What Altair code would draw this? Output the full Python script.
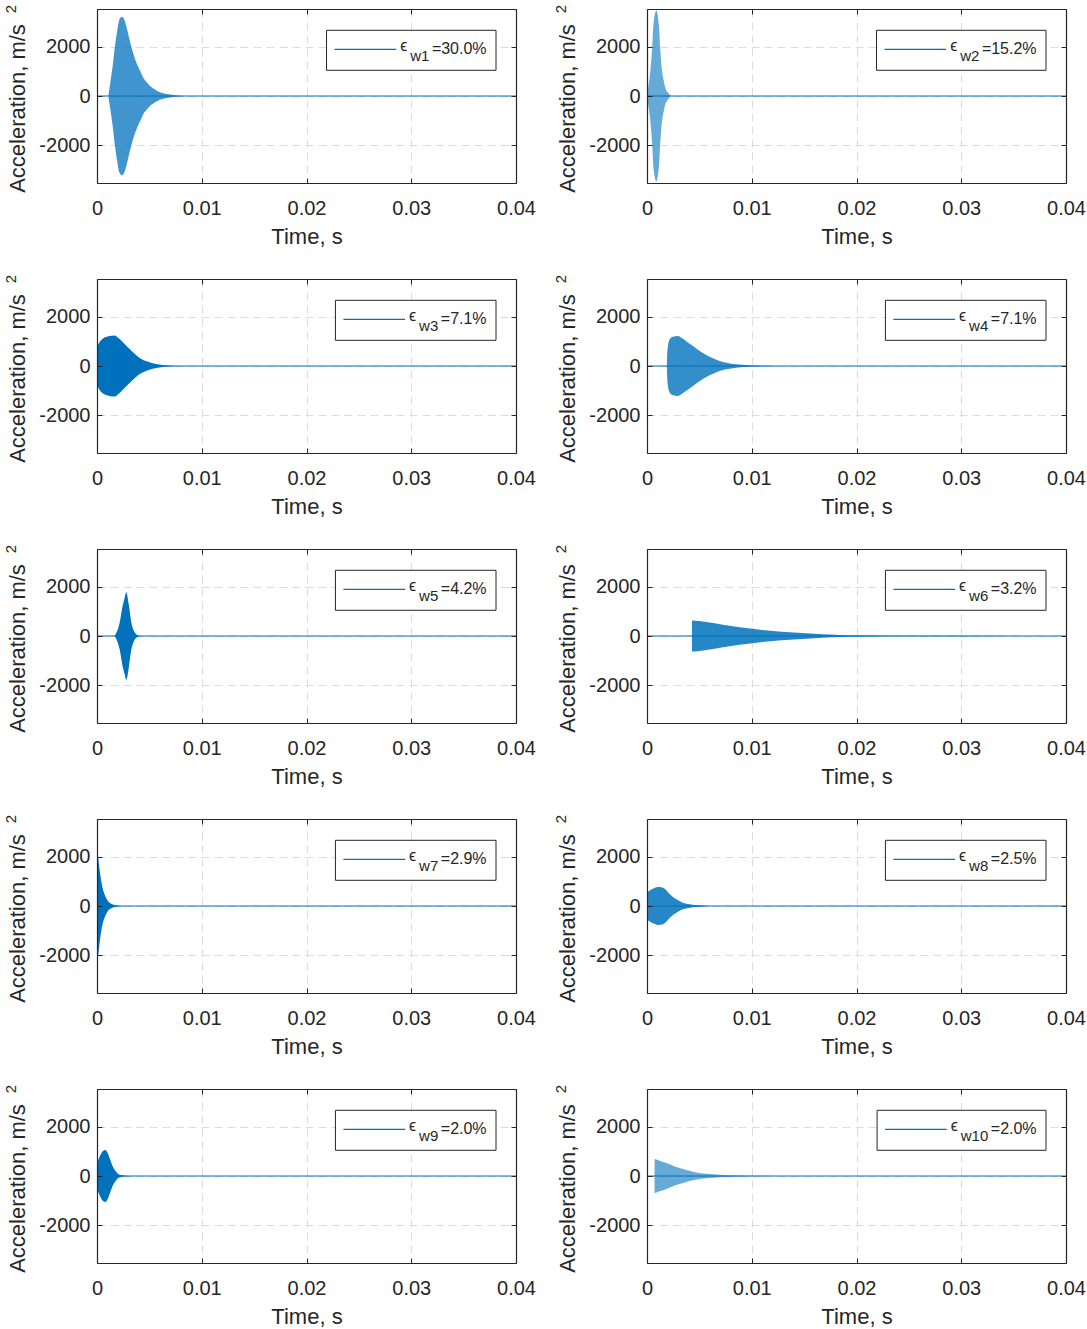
import altair as alt
import pandas as pd

# ---------------- data (envelope of each acceleration record) -------------
t_w1 = [0.00108, 0.00124, 0.00150, 0.00172, 0.00194, 0.00213, 0.00239, 0.00258, 0.00283, 0.00309,
        0.00334, 0.00363, 0.00388, 0.00417, 0.00442, 0.00474, 0.00506, 0.00538, 0.00570, 0.00601,
        0.00665, 0.00729, 0.00808, 0.00888]
a_w1 = [0, 450, 1230, 2040, 2670, 3090, 3210, 3120, 2780, 2310, 1900, 1500, 1230, 970, 740, 560,
        400, 300, 215, 150, 80, 40, 10, 0]

t_w2 = [0.0, 0.000095, 0.000255, 0.000477, 0.000636, 0.000891, 0.001146, 0.001273, 0.001432,
        0.001591, 0.00175, 0.002005, 0.002323]
a_w2 = [0, 300, 760, 1840, 2980, 3450, 2800, 1840, 1030, 630, 335, 130, 0]

t_w3 = [0.0, 0.00022, 0.00054, 0.00118, 0.00166, 0.00213, 0.00277, 0.00341, 0.00404, 0.00468,
        0.00532, 0.00627, 0.00723, 0.0085]
a_w3 = [770, 950, 1100, 1210, 1235, 1100, 830, 565, 335, 200, 107, 40, 10, 0]

t_w4 = [0.00190, 0.00191, 0.00200, 0.00216, 0.00248, 0.00296, 0.00328, 0.00375, 0.00439, 0.00503,
        0.00566, 0.00630, 0.00694, 0.00757, 0.00853, 0.0098, 0.01139, 0.01362]
a_w4 = [0, 270, 805, 1070, 1180, 1210, 1140, 1005, 805, 605, 443, 310, 200, 135, 67, 27, 10, 0]

t_w5 = [0.00168, 0.00184, 0.00215, 0.00247, 0.00263, 0.00279, 0.00304, 0.00326, 0.00348, 0.00373,
        0.00405, 0.00437]
a_w5 = [0, 120, 520, 1260, 1530, 1770, 1260, 590, 255, 80, 13, 0]

t_w6 = [0.00429, 0.0043, 0.00566, 0.00725, 0.00885, 0.01044, 0.01203, 0.01362, 0.01521, 0.0168,
        0.01839, 0.01998, 0.025, 0.03, 0.035, 0.04]
a_w6 = [0, 630, 565, 456, 350, 270, 200, 148, 107, 67, 40, 27, 15, 8, 5, 3]

t_w7 = [0.0, 0.00006, 0.00025, 0.00041, 0.00057, 0.00073, 0.00089, 0.00104, 0.00136, 0.00168,
        0.00215, 0.00279]
a_w7 = [2100, 2080, 1475, 1000, 670, 470, 310, 200, 95, 40, 13, 0]

t_w8 = [0.0, 0.00025, 0.00057, 0.00105, 0.00137, 0.00169, 0.0020, 0.00248, 0.00296, 0.00344,
        0.00407, 0.00503, 0.00598]
a_w8 = [540, 630, 700, 765, 760, 700, 560, 360, 230, 135, 67, 27, 0]

t_w9 = [0.0, 0.00025, 0.00051, 0.00079, 0.00104, 0.00127, 0.00152, 0.00177, 0.00199, 0.00231,
        0.00279, 0.00326]
a_w9 = [500, 780, 980, 1050, 910, 645, 375, 200, 94, 40, 13, 0]

t_w10 = [0.00072, 0.00073, 0.00121, 0.00185, 0.00248, 0.00312, 0.00375, 0.00439, 0.00503, 0.00566,
         0.00694, 0.00821, 0.0098, 0.01203, 0.01362]
a_w10 = [0, 685, 617, 523, 416, 322, 240, 175, 121, 94, 54, 27, 13, 5, 0]

t_span = [0.0, 0.04]          # record length, s (baseline of every trace)
x_ticks = [0, 0.01, 0.02, 0.03, 0.04]
y_ticks = [-2000, 0, 2000]
y_limit = [-3520, 3520]

eps_sub = ["w1", "w2", "w3", "w4", "w5", "w6", "w7", "w8", "w9", "w10"]
eps_val = ["30.0%", "15.2%", "7.1%", "7.1%", "4.2%", "3.2%", "2.9%", "2.5%", "2.0%", "2.0%"]

T = [t_w1, t_w2, t_w3, t_w4, t_w5, t_w6, t_w7, t_w8, t_w9, t_w10]
A = [a_w1, a_w2, a_w3, a_w4, a_w5, a_w6, a_w7, a_w8, a_w9, a_w10]

# ---------------- style ----------------
W, H = 419, 174
BLUE = "#0072BD"
INK = "#262626"
FONT = "Liberation Sans"
GRID = "#dcdcdc"
OPAC = [0.75, 0.6, 1.0, 0.8, 1.0, 0.85, 1.0, 0.85, 1.0, 0.6]

CW = {"0": 556, "1": 556, "2": 556, "3": 556, "4": 556, "5": 556, "6": 556, "7": 556,
      "8": 556, "9": 556, ".": 278, "%": 889, "=": 584, "w": 722}


def text_w(s, fs):
    return sum(CW.get(c, 556) for c in s) * fs / 1000.0


xs = alt.Scale(domain=t_span, nice=False, zero=False)
ys = alt.Scale(domain=y_limit, nice=False, zero=False)

main_x = alt.Axis(values=x_ticks, labelExpr="datum.value + ''", labelFontSize=20,
                  labelColor=INK, labelPadding=31, labelBaseline="alphabetic", labelFlush=False,
                  ticks=False, tickSize=0, domain=False, grid=True, gridColor=GRID,
                  gridDash=[8, 5], gridWidth=1, title="Time, s", titleFontSize=22,
                  titleColor=INK, titleFontWeight="normal", titleY=60,
                  titleBaseline="alphabetic")
main_y = alt.Axis(values=y_ticks, labelExpr="datum.value + ''", labelFontSize=20,
                  labelColor=INK, labelPadding=7, labelFlush=False, ticks=False, tickSize=0,
                  domain=False, grid=True, gridColor=GRID, gridDash=[8, 5], gridWidth=1,
                  title="Acceleration, m/s", titleFontSize=22, titleColor=INK,
                  titleFontWeight="normal", titleX=-73, titleY=99, titleAngle=270,
                  titleAlign="center", titleBaseline="alphabetic")


def tick_axis(orient, offset, vals):
    return alt.Axis(orient=orient, offset=offset, values=vals, labels=False, title="",
                    domain=True, domainColor=INK, domainWidth=1.2, grid=False, ticks=True,
                    tickSize=5, tickColor=INK, tickWidth=1, zindex=1)


def panel(i):
    env = pd.DataFrame({"t": T[i], "up": A[i]})
    env["lo"] = -env["up"]
    base = pd.DataFrame({"t0": [t_span[0]], "t1": [t_span[1]], "a": [0]})
    lab = pd.DataFrame({"eps": ["\u03f5"], "sub": [eps_sub[i]], "eq": ["=" + eps_val[i]],
                        "sup": ["2"]})

    area = alt.Chart(env).mark_area(color=BLUE, opacity=OPAC[i], interpolate="monotone").encode(
        x=alt.X("t:Q", scale=xs, axis=main_x),
        y=alt.Y("lo:Q", scale=ys, axis=main_y),
        y2="up:Q")
    zero = alt.Chart(base).mark_rule(color=BLUE, strokeWidth=1.2).encode(
        x=alt.X("t0:Q", scale=xs, axis=tick_axis("top", -H, x_ticks)),
        x2="t1:Q",
        y=alt.Y("a:Q", scale=ys, axis=tick_axis("right", -W, y_ticks)))
    ghost = alt.Chart(base).mark_point(opacity=0).encode(
        x=alt.X("t0:Q", scale=xs, axis=tick_axis("bottom", -H, x_ticks)),
        y=alt.Y("a:Q", scale=ys, axis=tick_axis("left", -W, y_ticks)))

    # legend geometry (pixels inside the panel)
    br = W - 20
    eq_w = text_w("=" + eps_val[i], 16)
    sub_w = text_w(eps_sub[i], 15)
    x_eq = br - 9.4
    x_sub = x_eq - eq_w - 2.5
    x_eps = x_sub - sub_w - 3
    line_r = x_eps - 6 - 5
    line_l = line_r - 61.7
    bl = line_l - 8

    box = alt.Chart(lab).mark_rect(fill="white", stroke=INK, strokeWidth=1).encode(
        x=alt.value(bl), x2=alt.value(br), y=alt.value(21.3), y2=alt.value(61.3))
    sample = alt.Chart(lab).mark_rule(color=BLUE, strokeWidth=1.2).encode(
        x=alt.value(line_l), x2=alt.value(line_r), y=alt.value(40.3))
    eps = alt.Chart(lab).mark_text(align="right", baseline="alphabetic", fontSize=16,
                                   color=INK).encode(text="eps:N", x=alt.value(x_eps),
                                                     y=alt.value(42))
    sub = alt.Chart(lab).mark_text(align="right", baseline="alphabetic", fontSize=15,
                                   color=INK).encode(text="sub:N", x=alt.value(x_sub),
                                                     y=alt.value(52))
    eq = alt.Chart(lab).mark_text(align="right", baseline="alphabetic", fontSize=16,
                                  color=INK).encode(text="eq:N", x=alt.value(x_eq),
                                                    y=alt.value(45.3))
    sup = alt.Chart(lab).mark_text(align="center", baseline="alphabetic", fontSize=15, angle=270,
                                   color=INK).encode(text="sup:N", x=alt.value(-81),
                                                     y=alt.value(0))

    return alt.layer(area, zero, ghost, box, sample, eps, sub, eq, sup).resolve_axis(
        x="independent", y="independent").properties(width=W, height=H)


chart = alt.concat(*[panel(i) for i in range(10)], columns=2,
                   spacing={"row": 96, "column": 131}, bounds="flush").properties(
    padding={"left": 3, "top": 4, "right": 0, "bottom": 0}
).configure(font=FONT).configure_view(stroke="transparent")

chart.save("out.html", embed_options={"renderer": "svg", "actions": False})
